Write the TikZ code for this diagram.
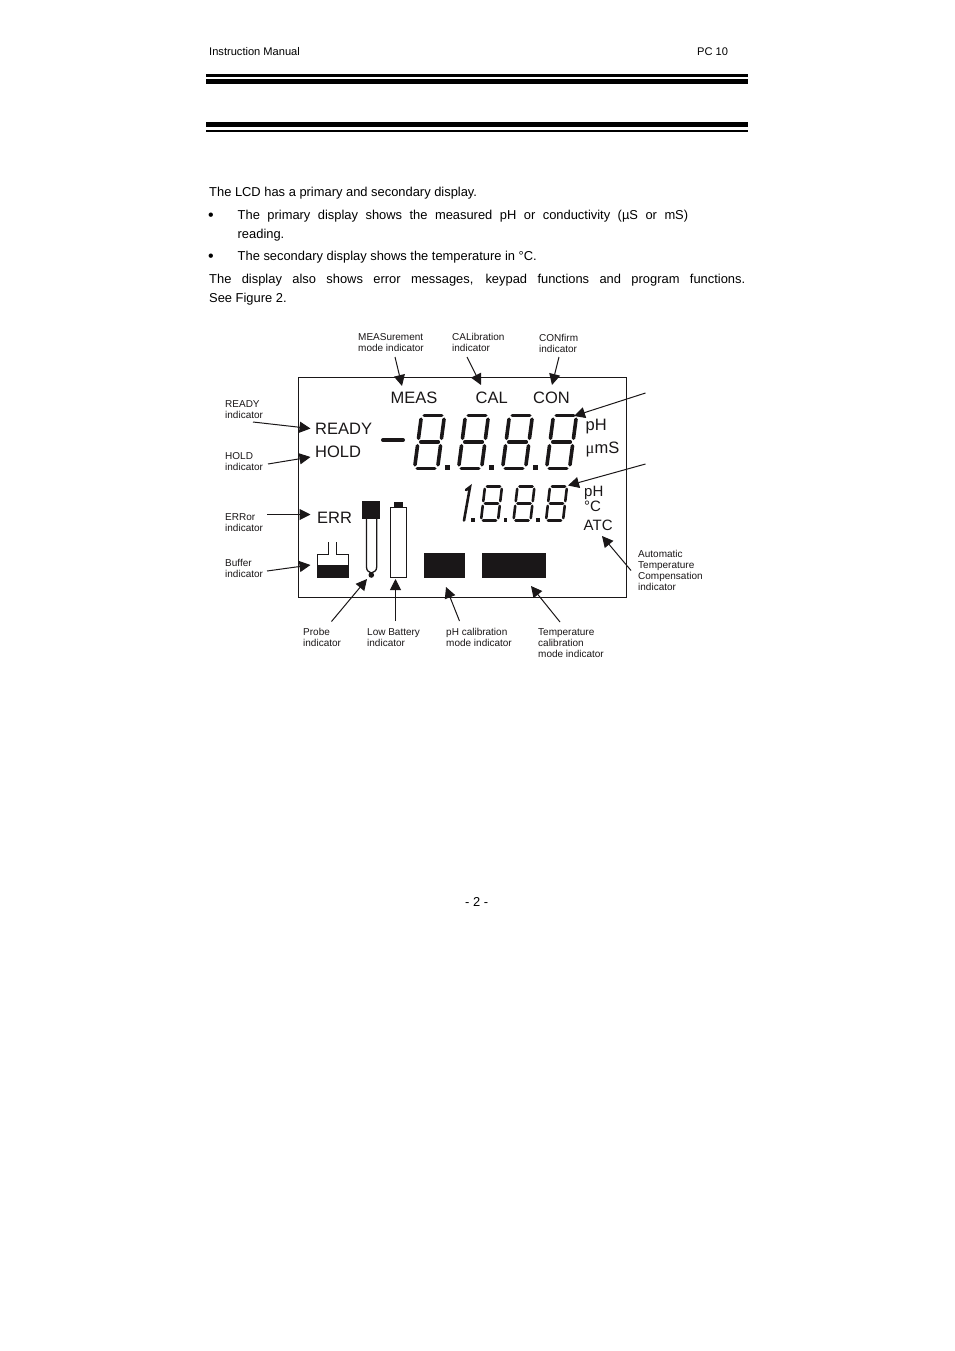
\documentclass[tikz,border=0pt]{standalone}
\usepackage{fontspec}
\setmainfont{Liberation Sans}
\newfontfamily\serifmu{Liberation Serif}
\usetikzlibrary{arrows.meta}
\definecolor{ink}{HTML}{1A1718}
% seven segment digit: bottom-left x, bottom y, width, height, skew, line width
\newcommand{\sevenseg}[6]{%
  \foreach \ua/\va/\ub/\vb in {0.12/1/0.88/1, 0.12/0.5/0.88/0.5, 0.12/0/0.88/0,
      0/0.07/0/0.43, 1/0.07/1/0.43, 0/0.57/0/0.93, 1/0.57/1/0.93}{
    \draw[ink,line width=#6,line cap=round]
      ({#1+\ua*#3+\va*#5},{#2-\va*#4}) -- ({#1+\ub*#3+\vb*#5},{#2-\vb*#4});
  }%
}
\tikzset{
  body/.style={anchor=base west,inner sep=0,font=\fontsize{12.9}{15}\selectfont},
  bulletmark/.style={anchor=base west,inner sep=0,font=\fontsize{16}{16}\selectfont},
  head/.style={anchor=base west,inner sep=0,font=\fontsize{11.1}{13}\selectfont},
  lcd/.style={anchor=base west,inner sep=0,text=ink,font=\fontsize{16.5}{18}\selectfont},
  lcdsmall/.style={anchor=base west,inner sep=0,text=ink,font=\fontsize{15}{18}\selectfont},
  tag/.style={anchor=north west,inner sep=0,align=left,text=ink,font=\fontsize{10}{11}\selectfont},
  callout/.style={draw=ink,line width=1pt,-{Triangle[length=11pt,width=11pt]}},
  rulebar/.style={fill=black,draw=none},
  solid ink/.style={fill=ink,draw=none},
  icon/.style={draw=ink,line width=1pt,fill=white}
}
\begin{document}
\begin{tikzpicture}[x=1pt,y=-1pt]
\useasboundingbox[fill=white] (0,0) rectangle (954,1351);
% header
\node[head] (hdl) at (209,55.5) {Instruction Manual};
\node[head] (hdr) at (697,55.5) {PC 10};
\fill[rulebar] (206,74) rectangle (748,77);
\fill[rulebar] (206,79) rectangle (748,84);
\fill[rulebar] (206,122) rectangle (748,127);
\fill[rulebar] (206,130) rectangle (748,132);
% body
\node[body] (t1) at (209,196.5) {The LCD has a primary and secondary display.};
\node[bulletmark] (b1) at (208,220) {•};
\node[body] (t2) at (237.5,219) {\makebox[450.5pt][s]{The primary display shows the measured pH or conductivity (µS or mS)}};
\node[body] (t3) at (237.5,238) {reading.};
\node[bulletmark] (b2) at (208,261) {•};
\node[body] (t4) at (237.5,260) {The secondary display shows the temperature in °C.};
\node[body] (t5) at (209,283) {\makebox[536pt][s]{The display also shows error messages, keypad functions and program functions.}};
\node[body] (t6) at (209,302) {See Figure 2.};
\node[body] (pg) at (465,906) {- 2 -};
% LCD frame
\draw[ink,line width=1pt] (298.5,377.5) rectangle (626.5,597.5);
% LCD text
\node[lcd] (meas) at (390.5,403) {MEAS};
\node[lcd] (cal) at (475.5,403) {CAL};
\node[lcd] (con) at (533,403) {CON};
\node[lcd] (ready) at (315,434) {READY};
\node[lcd] (hold) at (315,457) {HOLD};
\node[lcd] (err) at (317,523) {ERR};
\node[lcd] (ph1) at (585.5,430) {pH};
\node[lcd] (ums) at (585.5,453) {{\serifmu μ}mS};
\node[lcdsmall] (ph2) at (584,496.5) {pH};
\node[lcdsmall] (degc) at (584,511.5) {°C};
\node[lcdsmall] (atc) at (583.5,530) {ATC};
% primary digits
\draw[ink,line width=4pt,line cap=round] (383,440) -- (403,440);
\sevenseg{414.5}{468.5}{23}{53}{7}{3.6pt}
\sevenseg{458.5}{468.5}{23}{53}{7}{3.6pt}
\sevenseg{502.5}{468.5}{23}{53}{7}{3.6pt}
\sevenseg{546.5}{468.5}{23}{53}{7}{3.6pt}
\fill[ink] (445,464.5) rectangle +(5,5);
\fill[ink] (489,464.5) rectangle +(5,5);
\fill[ink] (533,464.5) rectangle +(5,5);
% secondary digits
\draw[ink,line width=2.6pt,line cap=round] (464,520.5) -- (470,487) -- (466,490);
\sevenseg{481}{520.5}{17}{34}{4}{2.6pt}
\sevenseg{513.5}{520.5}{17}{34}{4}{2.6pt}
\sevenseg{546}{520.5}{17}{34}{4}{2.6pt}
\fill[ink] (471,518) rectangle +(3.5,3.5);
\fill[ink] (503.5,518) rectangle +(3.5,3.5);
\fill[ink] (536,518) rectangle +(3.5,3.5);
% buffer icon
\draw[ink,line width=1pt] (328,542) -- (328,554.5) -- (317.5,554.5) -- (317.5,566);
\draw[ink,line width=1pt] (336,542) -- (336,554.5) -- (348.5,554.5) -- (348.5,566);
\fill[solid ink] (317,565) rectangle (349,578);
% probe icon
\draw[ink,line width=1.3pt,fill=white] (366.5,519) -- (366.5,567) .. controls (366.5,571) and (369,572) .. (371.3,573) .. controls (374,572) and (376.7,571) .. (376.7,567) -- (376.7,519);
\fill[solid ink] (362,501) rectangle (380,519);
\fill[solid ink] (371.3,575) circle[radius=2.8];
% battery icon
\fill[solid ink] (394,502) rectangle (403,508);
\draw[icon] (390.5,507.5) rectangle (406.5,577.5);
% calibration mode blocks
\fill[solid ink] (424,553) rectangle (465,578);
\fill[solid ink] (482,553) rectangle (546,578);
% labels
\node[tag] (lmeas) at (358,333) {MEASurement\\mode indicator};
\node[tag] (lcal) at (452,333) {CALibration\\indicator};
\node[tag] (lcon) at (539,334) {CONfirm\\indicator};
\node[tag] (lready) at (225,400) {READY\\indicator};
\node[tag] (lhold) at (225,452) {HOLD\\indicator};
\node[tag] (lerr) at (225,513) {ERRor\\indicator};
\node[tag] (lbuf) at (225,559) {Buffer\\indicator};
\node[tag] (lprobe) at (303,628) {Probe\\indicator};
\node[tag] (lbat) at (367,628) {Low Battery\\indicator};
\node[tag] (lph) at (446,628) {pH calibration\\mode indicator};
\node[tag] (ltemp) at (538,628) {Temperature\\calibration\\mode indicator};
\node[tag] (latc) at (638,550) {Automatic\\Temperature\\Compensation\\indicator};
% connector ends
\coordinate (a1) at (395,357); \coordinate (a2) at (402,386);
\coordinate (b1) at (467,357); \coordinate (b2) at (481,385);
\coordinate (c1) at (559,357); \coordinate (c2) at (552,385);
\coordinate (d1) at (645.5,393); \coordinate (d2) at (574,416);
\coordinate (e1) at (645.5,464); \coordinate (e2) at (568,485.5);
\coordinate (f1) at (253,422); \coordinate (f2) at (310.5,428.5);
\coordinate (g1) at (268,464); \coordinate (g2) at (310.5,457);
\coordinate (h1) at (267,514.5); \coordinate (h2) at (310.5,514.5);
\coordinate (i1) at (267,571); \coordinate (i2) at (310.5,565);
\coordinate (j1) at (331.5,621.5); \coordinate (j2) at (367,579);
\coordinate (k1) at (395.5,621); \coordinate (k2) at (395.5,579);
\coordinate (l1) at (459.5,621); \coordinate (l2) at (446,587);
\coordinate (m1) at (560,622); \coordinate (m2) at (531,586);
\coordinate (n1) at (631,570.5); \coordinate (n2) at (602,536);
\foreach \p/\q in {a1/a2,b1/b2,c1/c2,d1/d2,e1/e2,f1/f2,g1/g2,h1/h2,i1/i2,j1/j2,k1/k2,l1/l2,m1/m2,n1/n2}
  \draw[callout] (\p) -- (\q);
\end{tikzpicture}
\end{document}
